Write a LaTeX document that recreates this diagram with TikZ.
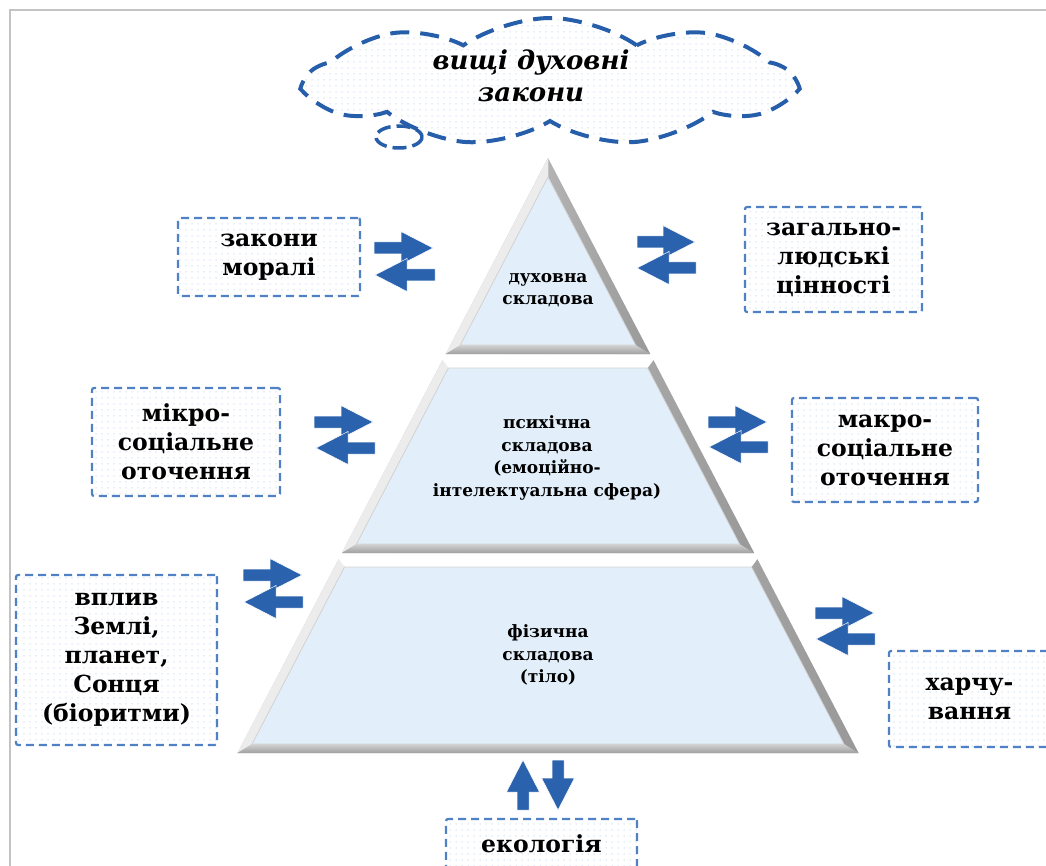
\documentclass[tikz,border=0pt]{standalone}
\usepackage{fontspec}
\setmainfont{DejaVu Serif}
\usetikzlibrary{shapes.symbols,patterns.meta}
\definecolor{arrowblue}{RGB}{43,98,173}
\definecolor{dashblue}{RGB}{79,129,196}
\definecolor{cloudblue}{RGB}{38,94,170}
\definecolor{pyrblue}{RGB}{226,239,251}
\definecolor{dotblue}{RGB}{205,221,240}
\definecolor{framegray}{RGB}{195,195,195}
\tikzset{
  factor/.style={draw=dashblue, line width=2.2pt, dash pattern=on 8pt off 5pt,
    rounded corners=2pt, pattern={Dots[distance=6pt,radius=0.75pt]},
    pattern color=dotblue, align=center, inner sep=0pt,
    font=\fontsize{23.5}{29}\selectfont\bfseries},
  level/.style={align=center, font=\fontsize{17}{22.5}\selectfont\bfseries},
  % block arrow from its tail, #1 = length
  pics/flow/.style={code={
    \fill[arrowblue, draw=white, line width=0.5pt]
      (0,-6) -- (#1-32,-6) -- (#1-32,-16.5) -- (#1,0) -- (#1-32,16.5)
      -- (#1-32,6) -- (0,6) -- cycle;}},
}
% one level of the pyramid: #1 top y, #2 bottom y
\newcommand\pyrlevel[2]{%
  \pgfmathsetmacro\otw{(#1-158)*0.522}%
  \pgfmathsetmacro\obw{(#2-158)*0.522}%
  \pgfmathsetmacro\ity{max(#1+8,177)}%
  \pgfmathsetmacro\iby{#2-9}%
  \pgfmathsetmacro\itw{max((\ity-158)*0.522-10,0)}%
  \pgfmathsetmacro\ibw{(\iby-158)*0.522-10}%
  \coordinate (otl) at (548-\otw,#1);
  \coordinate (otr) at (548+\otw,#1);
  \coordinate (obr) at (548+\obw,#2);
  \coordinate (obl) at (548-\obw,#2);
  \coordinate (itl) at (548-\itw,\ity);
  \coordinate (itr) at (548+\itw,\ity);
  \coordinate (ibr) at (548+\ibw,\iby);
  \coordinate (ibl) at (548-\ibw,\iby);
  \shade[left color=gray!40,right color=gray!80] (otl) -- (otr) -- (obr) -- (obl) -- cycle;
  \fill[gray!15] (otl) -- (itl) -- (ibl) -- (obl) -- cycle;
  \fill[white] (otl) -- (otr) -- (itr) -- (itl) -- cycle;
  \shade[top color=gray!35,bottom color=gray!75] (obl) -- (obr) -- (ibr) -- (ibl) -- cycle;
  \fill[pyrblue] (itl) -- (itr) -- (ibr) -- (ibl) -- cycle;
  \draw[gray!35,line width=0.8pt] (itl) -- (itr) -- (ibr) -- (ibl) -- cycle;
}
\begin{document}
\begin{tikzpicture}[x=1pt,y=-1pt]
  \useasboundingbox (0,0) rectangle (1046,866);
  \draw[framegray,line width=1.5pt] (10,866) -- (10,10) -- (1046,10);

  % cloud
  \node[cloud, cloud puffs=9, cloud puff arc=70, cloud ignores aspect,
    minimum width=485pt, minimum height=128pt, draw=cloudblue, line width=4pt,
    dash pattern=on 19pt off 11pt, pattern={Dots[distance=6pt,radius=0.75pt]},
    pattern color=dotblue] (cloud) at (550,82) {};
  \draw[cloudblue,line width=3.5pt,dash pattern=on 14pt off 6pt]
    (399,137) ellipse (23 and 11);
  \node[font=\fontsize{26}{32}\selectfont\bfseries\itshape, align=center]
    (laws) at (531,76) {вищі духовні\\закони};

  % pyramid
  \pyrlevel{158}{354}
  \pyrlevel{360}{553}
  \pyrlevel{559}{753}
  \node[level] (spirit) at (548,290) {духовна\\складова};
  \node[level] (psyche) at (547,458) {психічна\\складова\\(емоційно-\\інтелектуальна сфера)};
  \node[level] (body) at (548,655) {фізична\\складова\\(тіло)};

  % factors
  \node[factor, minimum width=182pt, minimum height=78pt] (moral) at (269,257) {закони\\моралі};
  \node[factor, minimum width=177pt, minimum height=105pt] (values) at (833.5,259.5) {загально-\\людські\\цінності};
  \node[factor, minimum width=188pt, minimum height=108pt] (micro) at (186,442) {мікро-\\соціальне\\оточення};
  \node[factor, minimum width=186pt, minimum height=104pt] (macro) at (885,450) {макро-\\соціальне\\оточення};
  \node[factor, minimum width=201pt, minimum height=170pt] (cosmos) at (116.5,660) {вплив\\Землі,\\планет,\\Сонця\\(біоритми)};
  \node[factor, minimum width=161pt, minimum height=96pt] (food) at (969.5,699) {харчу-\\вання};
  \node[factor, minimum width=191pt, minimum height=50pt] (eco) at (541.5,844) {екологія};

  % exchange arrows, placed at their tails
  \pic (moral-in) at (374,248) {flow=59};
  \pic[rotate=180] (moral-out) at (435,275) {flow=60};
  \pic (values-in) at (637,242) {flow=58};
  \pic[rotate=180] (values-out) at (696,268) {flow=59};
  \pic (micro-in) at (314,422) {flow=59};
  \pic[rotate=180] (micro-out) at (375,448) {flow=59};
  \pic (macro-in) at (708,422) {flow=59};
  \pic[rotate=180] (macro-out) at (768,447) {flow=59};
  \pic (cosmos-in) at (243,575) {flow=59};
  \pic[rotate=180] (cosmos-out) at (303,602) {flow=59};
  \pic (food-in) at (815,613) {flow=59};
  \pic[rotate=180] (food-out) at (875,639) {flow=59};
  \pic[rotate=90] (eco-up) at (523,810) {flow=50};
  \pic[rotate=-90] (eco-down) at (558,760) {flow=50};
\end{tikzpicture}
\end{document}
